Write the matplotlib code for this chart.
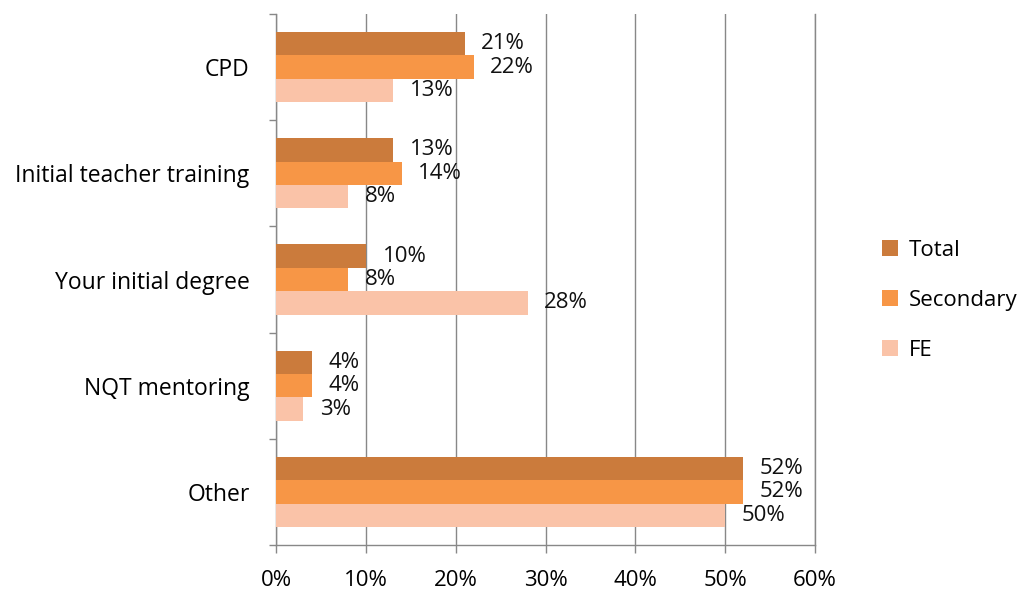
import numpy as np
import matplotlib
matplotlib.use('Agg')
import matplotlib.pyplot as plt
from matplotlib.ticker import FixedLocator, PercentFormatter

categories = ['CPD', 'Initial teacher training', 'Your initial degree', 'NQT mentoring', 'Other']
total = [21, 13, 10, 4, 52]
secondary = [22, 14, 8, 4, 52]
fe = [13, 8, 28, 3, 50]
series_names = ['Total', 'Secondary', 'FE']
colors = ['#CB7B3C', '#F79646', '#FAC3A8']

plt.rcParams['font.family'] = ['Open Sans', 'DejaVu Sans']

fig = plt.figure(figsize=(10.24, 5.89), dpi=100)
ax = fig.add_axes([0.2695, 0.0747, 0.5265, 0.9015])

y = np.arange(len(categories))
h = 0.22
for i, (vals, name, c) in enumerate(zip([total, secondary, fe], series_names, colors)):
    pos = y + (i - 1) * h
    bars = ax.barh(pos, vals, height=h, color=c, label=name, zorder=3)
    for b, v in zip(bars, vals):
        ax.annotate(f'{v}%', (b.get_width(), b.get_y() + b.get_height() / 2),
                    xytext=(12, 0), textcoords='offset points',
                    va='center', ha='left', fontsize=16, color='#111111', zorder=4)

ax.set_xlim(0, 60)
ax.set_ylim(len(categories) - 0.5, -0.5)
ax.set_xticks(np.arange(0, 61, 10))
ax.xaxis.set_major_formatter(PercentFormatter(decimals=0))
ax.set_yticks(y)
ax.set_yticklabels(categories)
ax.yaxis.set_minor_locator(FixedLocator(np.arange(-0.5, len(categories), 1)))
ax.tick_params(axis='y', which='major', length=0, pad=19, labelsize=16.5)
ax.tick_params(axis='y', which='minor', length=5, color='#888888', width=1)
ax.tick_params(axis='x', length=6, color='#888888', width=1, labelsize=16, pad=12)
ax.grid(axis='x', color='#888888', linewidth=1, zorder=0)
ax.axvline(60, color='#888888', linewidth=1, zorder=0, clip_on=False)
for s in ['top', 'right']:
    ax.spines[s].set_visible(False)
for s in ['left', 'bottom']:
    ax.spines[s].set_color('#888888')
    ax.spines[s].set_linewidth(1)

fig.legend(loc='center left', bbox_to_anchor=(0.842, 0.49), frameon=False,
           fontsize=16, handlelength=0.7, handleheight=0.7, labelspacing=1.3,
           handletextpad=0.5)

plt.savefig('out.png', dpi=100)
